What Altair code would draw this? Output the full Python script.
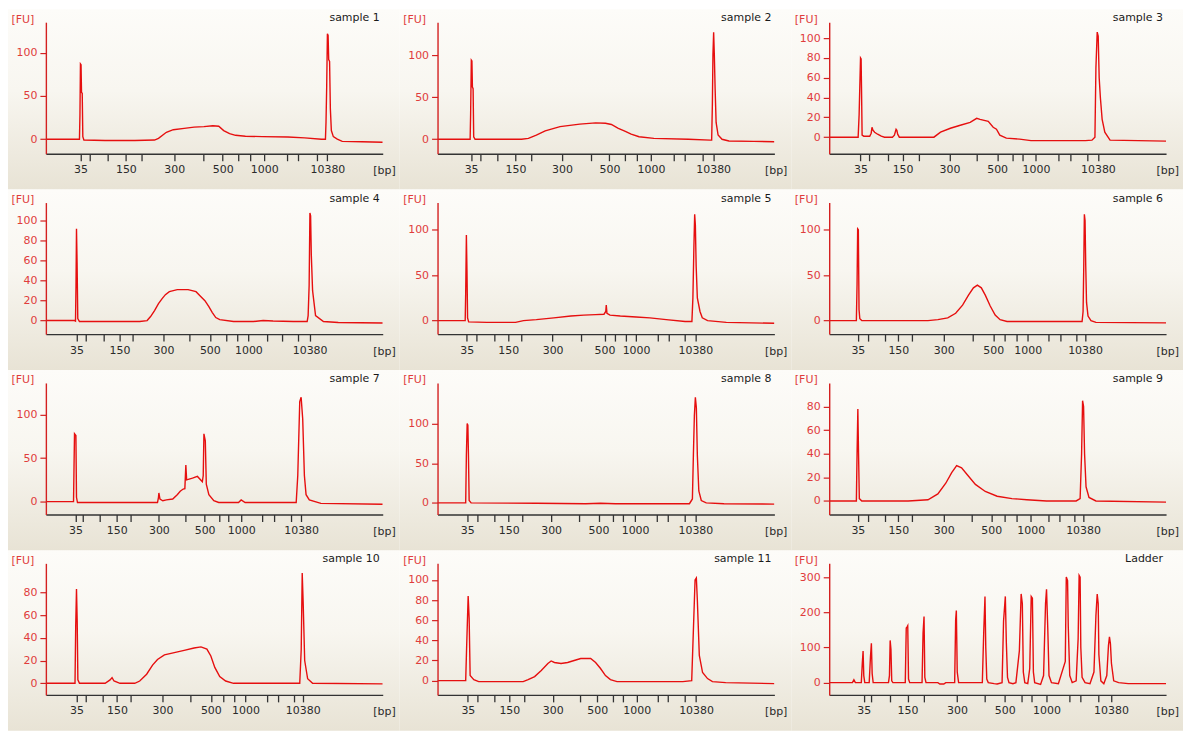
import json
import altair as alt
import pandas as pd

# ---------------------------------------------------------------- data
LADDER_BP = [35, 50, 100, 150, 200, 300, 400, 500, 600, 700, 1000, 2000, 3000, 7000, 10380]
LABELLED_BP = [35, 150, 300, 500, 1000, 10380]
PANEL_NAMES = ["sample 1", "sample 2", "sample 3", "sample 4", "sample 5", "sample 6",
               "sample 7", "sample 8", "sample 9", "sample 10", "sample 11", "Ladder"]

# migration time (arbitrary units, 0..341) at which each ladder size runs, per panel
ladder_times = [
    [35, 44, 63, 81, 97, 130, 159, 179, 195, 207, 221, 244, 255, 274, 285],
    [34, 43, 61, 79, 95, 126, 155, 174, 190, 202, 216, 239, 250, 268, 279],
    [31.7, 40.7, 59.3, 74.3, 91, 121.7, 149.3, 170, 185.3, 196, 209.3, 232, 243.7, 261, 272],
    [31, 40.5, 59, 74.5, 88, 119, 145, 166, 182.5, 194, 205, 224, 239, 255, 267],
    [29.5, 39, 58, 71.5, 84.5, 116.5, 145, 169, 179.5, 191, 201, 223, 234, 250, 261],
    [29, 39, 56, 70, 84, 116, 145, 166, 178, 190, 201, 222, 234, 250, 259],
    [30, 37.7, 54.4, 71.7, 86, 114.4, 141.7, 160.7, 175.7, 185, 197.7, 219.4, 230.7, 248.4, 258.4],
    [30, 40, 58, 72, 86, 115, 143, 163, 178, 188, 200, 222, 233, 250, 261],
    [29, 39, 56, 70, 84, 116, 144, 164, 178, 190, 204, 222, 233, 248, 257],
    [31, 40, 58, 72, 86, 118, 146, 167, 180, 191, 202, 224, 235, 251, 260],
    [30.7, 40, 57.3, 72.7, 87.7, 116.7, 144, 161.7, 177.3, 187.3, 201.7, 222.7, 233.3, 250.7, 261.7],
    [35, 42.7, 62, 79.3, 96, 129.3, 157.7, 177.7, 195, 205.3, 220, 242.7, 254.3, 272.7, 285.3],
]

y_domains = [
    [-16.8, 135.3], [-17.2, 139], [-16.7, 116], [-13.6, 118.4],
    [-14.9, 129.8], [-14.9, 129.8], [-14.8, 136.5], [-14.6, 151],
    [-11.5, 100], [-10.2, 105.5], [-14.2, 116.5], [-34.9, 339],
]
y_ticks = [
    [0, 50, 100], [0, 50, 100], [0, 20, 40, 60, 80, 100], [0, 20, 40, 60, 80, 100],
    [0, 50, 100], [0, 50, 100], [0, 50, 100], [0, 50, 100],
    [0, 20, 40, 60, 80], [0, 20, 40, 60, 80], [0, 20, 40, 60, 80, 100], [0, 100, 200, 300],
]

# traces: (migration time, fluorescence [FU])
s1 = [(0, 0), (34, 0), (34.5, 28), (35, 87), (35.6, 86), (36.1, 54), (36.8, 53), (37.4, 3), (38.5, -1),
      (60, -1.5), (90, -1.5), (110, -1), (114, 1), (122, 8), (129, 11), (140, 12.5), (150, 14), (160, 14.5),
      (169, 15.5), (175, 15), (180, 10), (186, 6.5), (192, 4.5), (202, 3.5), (219, 3), (245, 2.5),
      (262, 1.5), (279, 0), (283, 0), (283.6, 20), (284.3, 62), (285, 122), (285.7, 120), (286.3, 92),
      (287.2, 90), (288, 35), (289, 10), (291, 3), (295, 0), (300, -2.5), (320, -3), (341, -3.5)]
s2 = [(0, 0), (33, 0), (33.5, 30), (34.2, 94), (34.8, 93), (35.3, 62), (36, 60), (36.6, 3), (38, 0),
      (60, 0), (85, 0), (92, 1), (100, 5), (109, 10), (124, 15), (144, 18), (160, 19.5), (170, 19),
      (176, 17.5), (183, 13), (189, 10), (196, 6), (204, 3), (219, 1), (254, 0), (276, -1), (277.5, -1),
      (278.2, 40), (278.8, 100), (279.5, 127), (280.2, 100), (281, 60), (282, 20), (284, 5), (288, 0),
      (295, -2), (320, -2.5), (341, -3)]
s3 = [(0, 0), (29.3, 0), (30.3, 23), (31.7, 80), (32.3, 79), (32.7, 50), (33.3, 2), (35, 1), (41, 1),
      (42.5, 4), (43.3, 10), (44.3, 7), (46, 5), (49, 3), (52.7, 1), (56, 0), (64, 0), (66, 2), (67.7, 8),
      (68.5, 7), (69.3, 3), (71, 0), (90, 0), (106, 0), (112.7, 5), (122.7, 9), (132.7, 12), (142.7, 15),
      (149.3, 19), (152.7, 18), (161, 16), (166, 10), (169.3, 8), (172.7, 2), (179.3, -1), (192.7, -2),
      (204.3, -3.5), (259.3, -3.5), (266, -3), (269, 0), (270, 70), (271.3, 106), (272.3, 102),
      (273.3, 60), (274.5, 40), (276.3, 18), (279, 5), (284.3, -3), (341, -4)]
s4 = [(0, 0), (29, 0), (30, -0.5), (30.5, 35), (31, 92), (31.6, 58), (32.3, 2), (34, -1), (60, -1),
      (95, -1), (102.5, 0), (106, 4), (110, 10), (114, 17), (117.7, 22), (121, 26), (125, 29), (133, 31),
      (144, 31), (152, 29), (156, 25), (161, 20), (165, 14), (168.5, 8), (172, 3), (176, 1), (190, -1),
      (210, -1), (220, 0), (230, -0.5), (250.5, -1), (264.5, -1), (265.5, 5), (266.5, 35), (267.3, 108),
      (268, 105), (268.7, 66), (270, 30), (273, 5), (281, -1), (296, -2), (341, -2.5)]
s5 = [(0, 0), (28, 0), (28.5, 30), (29.2, 94), (29.8, 55), (30.4, 3), (31.5, -1.5), (50, -2), (79, -2),
      (87, 0), (100, 1), (117.7, 3), (135, 5), (148, 6), (160, 6.5), (168.5, 7), (170.3, 10), (170.8, 17),
      (171.5, 8), (174.6, 6), (185, 5), (201, 4), (215, 3), (231.5, 1), (250.6, -1), (257.5, -1),
      (258.5, 25), (259.5, 80), (260.3, 117), (261, 105), (261.8, 60), (263, 25), (265.7, 10), (268, 3),
      (273.4, 0), (292.3, -2), (341, -3)]
s6 = [(0, 0), (27.5, 0), (28.2, 40), (28.8, 101), (29.5, 100), (30.2, 12), (31, 2), (33, 0), (60, 0),
      (100, 0), (110, 1), (120, 3), (128, 8), (135, 17), (141, 28), (146, 36), (150, 39), (154, 36),
      (158, 28), (163, 16), (168, 6), (173, 1), (180, -1), (230, -1), (250, -1), (256, -1), (257, 10),
      (257.7, 60), (258.3, 117), (259, 110), (259.7, 60), (260.5, 20), (262, 5), (265, 0), (270, -2),
      (341, -2.5)]
s7 = [(0, 0), (28, 0), (28.5, 40), (29, 78), (30.4, 76), (31, 5), (32, -1), (60, -1), (100, -1),
      (113, -1), (114, 5), (114.4, 10), (115.5, 3), (118.4, 1), (122, 2), (128.4, 3), (133, 8), (136, 12),
      (139, 14.5), (140.7, 15), (141.7, 42), (142.5, 25), (148.4, 27), (153.4, 29), (158.4, 23),
      (159.3, 30), (160, 78), (161.4, 70), (162.4, 20), (165, 8), (170, 1), (175, -1), (195, -1),
      (197.7, 2), (201.7, -1), (253.4, -1), (255, 30), (257, 115), (258.4, 120), (260, 95), (261.7, 30),
      (263.4, 8), (266.7, 2), (278.4, -2), (341, -3)]
s8 = [(0, 0), (28.5, 0), (29.2, 60), (30, 100), (30.7, 98), (31.3, 60), (32, 3), (34, 0), (100, -0.5),
      (150, -1), (165, -0.5), (180, -1), (255, -1), (258, 5), (259, 60), (260, 110), (261, 133),
      (262, 120), (263, 60), (264.5, 15), (267, 3), (272, 0), (290, -1), (341, -1.5)]
s9 = [(0, 0), (27.5, 0), (28.2, 40), (29, 78), (29.7, 40), (30.5, 2), (33, 0), (80, 0), (100, 1),
      (110, 6), (118, 15), (124, 24), (129, 30), (134, 28), (140, 22), (148, 14), (158, 8), (170, 4),
      (185, 2), (200, 1), (220, 0), (250, 0), (254, 2), (255.5, 40), (256.5, 85), (257.5, 80),
      (258.5, 40), (260, 12), (263, 3), (270, 0), (341, -1)]
s10 = [(0, 0), (29.5, 0), (30.2, 50), (31, 83), (31.7, 55), (32.4, 3), (34, 0), (60, 0), (65, 3),
       (67, 5), (69, 2), (75, 0), (90, 0), (95, 2), (102, 8), (108, 16), (113, 21), (120, 25), (130, 27),
       (140, 29), (150, 31), (157, 32), (163, 30), (167, 24), (171, 14), (176, 6), (182, 2), (190, 0),
       (257, 0), (258.5, 30), (259.5, 97), (260.5, 70), (262, 20), (265, 4), (270, 0), (341, -0.5)]
s11 = [(0, 0), (28.5, 0), (29.3, 28), (31, 84), (32, 62), (33, 5), (36.7, 1), (41.7, -1), (86.7, -1),
       (91.7, 1), (98.3, 4), (105, 10), (111.7, 17), (115, 19.5), (118.3, 18), (125, 17), (131.7, 18),
       (138.3, 20), (145, 22), (155, 22), (160, 18), (165, 12), (170, 5), (175, 1), (181.7, -1),
       (248.3, -1), (257.3, 0), (259, 50), (260.7, 100), (262, 102), (263, 80), (265, 25), (268.3, 8),
       (273.3, 2), (278.3, -1), (291.7, -2), (341, -3)]
ladder = [(0, 0), (23.5, 0), (25, 8), (26.5, 0), (32.5, 0), (33.5, 55), (34.3, 90), (35, 20), (36, 0),
          (40.5, 0), (41.8, 75), (42.7, 112), (43.5, 25), (44.5, 0), (60, 0), (61, 20), (61.7, 120),
          (62.5, 95), (63.3, 5), (64.5, 0), (77, 0), (78, 155), (78.7, 158), (79.5, 162), (80.3, 10),
          (81.5, 0), (94, 0), (95, 140), (96, 188), (96.8, 15), (98, 0), (110, 0), (112, -4), (116, -4),
          (118, 0), (127, 0), (128, 178), (128.7, 205), (129.6, 30), (131, 0), (155, 0), (156.5, 150),
          (157.7, 245), (158.5, 100), (159.5, 10), (161, 0), (167, -3), (170, -4), (175, 0), (176.5, 175),
          (178.3, 245), (179.3, 115), (180.5, 15), (182, 0), (186, -3), (189, 0), (192.5, 90),
          (194.3, 252), (195.5, 225), (196.5, 30), (198, 0), (201, -3), (203, 40), (204.5, 245),
          (205.7, 240), (206.7, 30), (208, 0), (214, -5), (217, 20), (219, 225), (220, 265), (221.3, 150),
          (222.5, 20), (225, 0), (232, -3), (239, 60), (240, 300), (241.3, 290), (242, 160), (243.5, 20),
          (246, 0), (250, 5), (252, 125), (253, 305), (254, 300), (254.7, 100), (256, 15), (259, 0),
          (264, -3), (268, 30), (270, 190), (271.3, 252), (272.3, 225), (273, 80), (275, 5), (278, -3),
          (281, 20), (282.7, 105), (283.7, 130), (284.7, 110), (285.7, 55), (288, 5), (293, 0),
          (302.7, -3), (341, -3)]
traces = [s1, s2, s3, s4, s5, s6, s7, s8, s9, s10, s11, ladder]

# ---------------------------------------------------------------- style
FONT = "DejaVu Sans"
RED_LINE = "#e60f0f"
RED_AX = "#d42020"
RED_TXT = "#e03c3c"
DARK = "#2a2a2a"
W, H = 338, 132          # plot area of one panel
L, T, R, B = 38, 13, 17, 36  # panel margins around plot area
BG = {"gradient": "linear", "x1": 0, "y1": 0, "x2": 0, "y2": 1,
      "stops": [{"offset": 0, "color": "#fdfcf9"}, {"offset": 0.45, "color": "#f8f6f0"},
                {"offset": 1, "color": "#e8e3d5"}]}


def panel(i):
    df = pd.DataFrame(traces[i], columns=["t", "fu"])
    ticks = ladder_times[i]
    labels = [str(b) if b in LABELLED_BP else "" for b in LADDER_BP]
    expr = json.dumps(labels).replace('"', "'") + "[indexof(" + json.dumps(ticks) + ", datum.value)]"

    x = alt.X("t:Q", scale=alt.Scale(domain=[0, 341], nice=False, zero=False),
              axis=alt.Axis(values=ticks, labelExpr=expr, title="[bp]", titleX=W - 10, titleY=17,
                            titleAlign="left", titleBaseline="middle", titleAngle=0,
                            titleColor=DARK, titleFont=FONT, titleFontSize=11, titleFontWeight="normal",
                            domainColor="#333333", domainWidth=1.3, tickColor="#333333", tickSize=7,
                            tickWidth=1.3, labelColor=DARK, labelFont=FONT, labelFontSize=11,
                            labelPadding=3, labelOverlap=False, labelFlush=False, grid=False, zindex=1))
    y = alt.Y("fu:Q", scale=alt.Scale(domain=y_domains[i], nice=False, zero=False),
              axis=alt.Axis(values=y_ticks[i], title="[FU]", titleX=-L + 3, titleY=-3, titleAngle=0,
                            titleAlign="left", titleBaseline="middle", titleColor=RED_TXT, titleFont=FONT,
                            titleFontSize=11, titleFontWeight="normal", domainColor=RED_AX, domainWidth=1.4,
                            tickColor=RED_AX, tickSize=6, tickWidth=1.2, labelColor=RED_TXT, labelFont=FONT,
                            labelFontSize=11, labelPadding=3, grid=False, zindex=1))

    one = pd.DataFrame({"name": [PANEL_NAMES[i]]})
    bg = alt.Chart(one).mark_rect(fill=BG, stroke=None).encode(
        x=alt.value(-L), x2=alt.value(W + R), y=alt.value(-T), y2=alt.value(H + B))
    line = alt.Chart(df).mark_line(color=RED_LINE, strokeWidth=1.4, clip=True).encode(x=x, y=y)
    title = alt.Chart(one).mark_text(align="right", baseline="middle", font=FONT, fontSize=11,
                                     color="#1a1a1a").encode(
        text="name:N", x=alt.value(W - 3), y=alt.value(-4))
    return alt.layer(bg, line, title).properties(width=W, height=H)


rows = [alt.hconcat(*[panel(r * 3 + c) for c in range(3)], spacing=0) for r in range(4)]
chart = alt.vconcat(*rows, spacing=0).properties(padding=0, background="white").configure_view(
    stroke=None).configure_concat(spacing=0)

chart.save("out.html", embed_options={"renderer": "svg", "actions": False})
